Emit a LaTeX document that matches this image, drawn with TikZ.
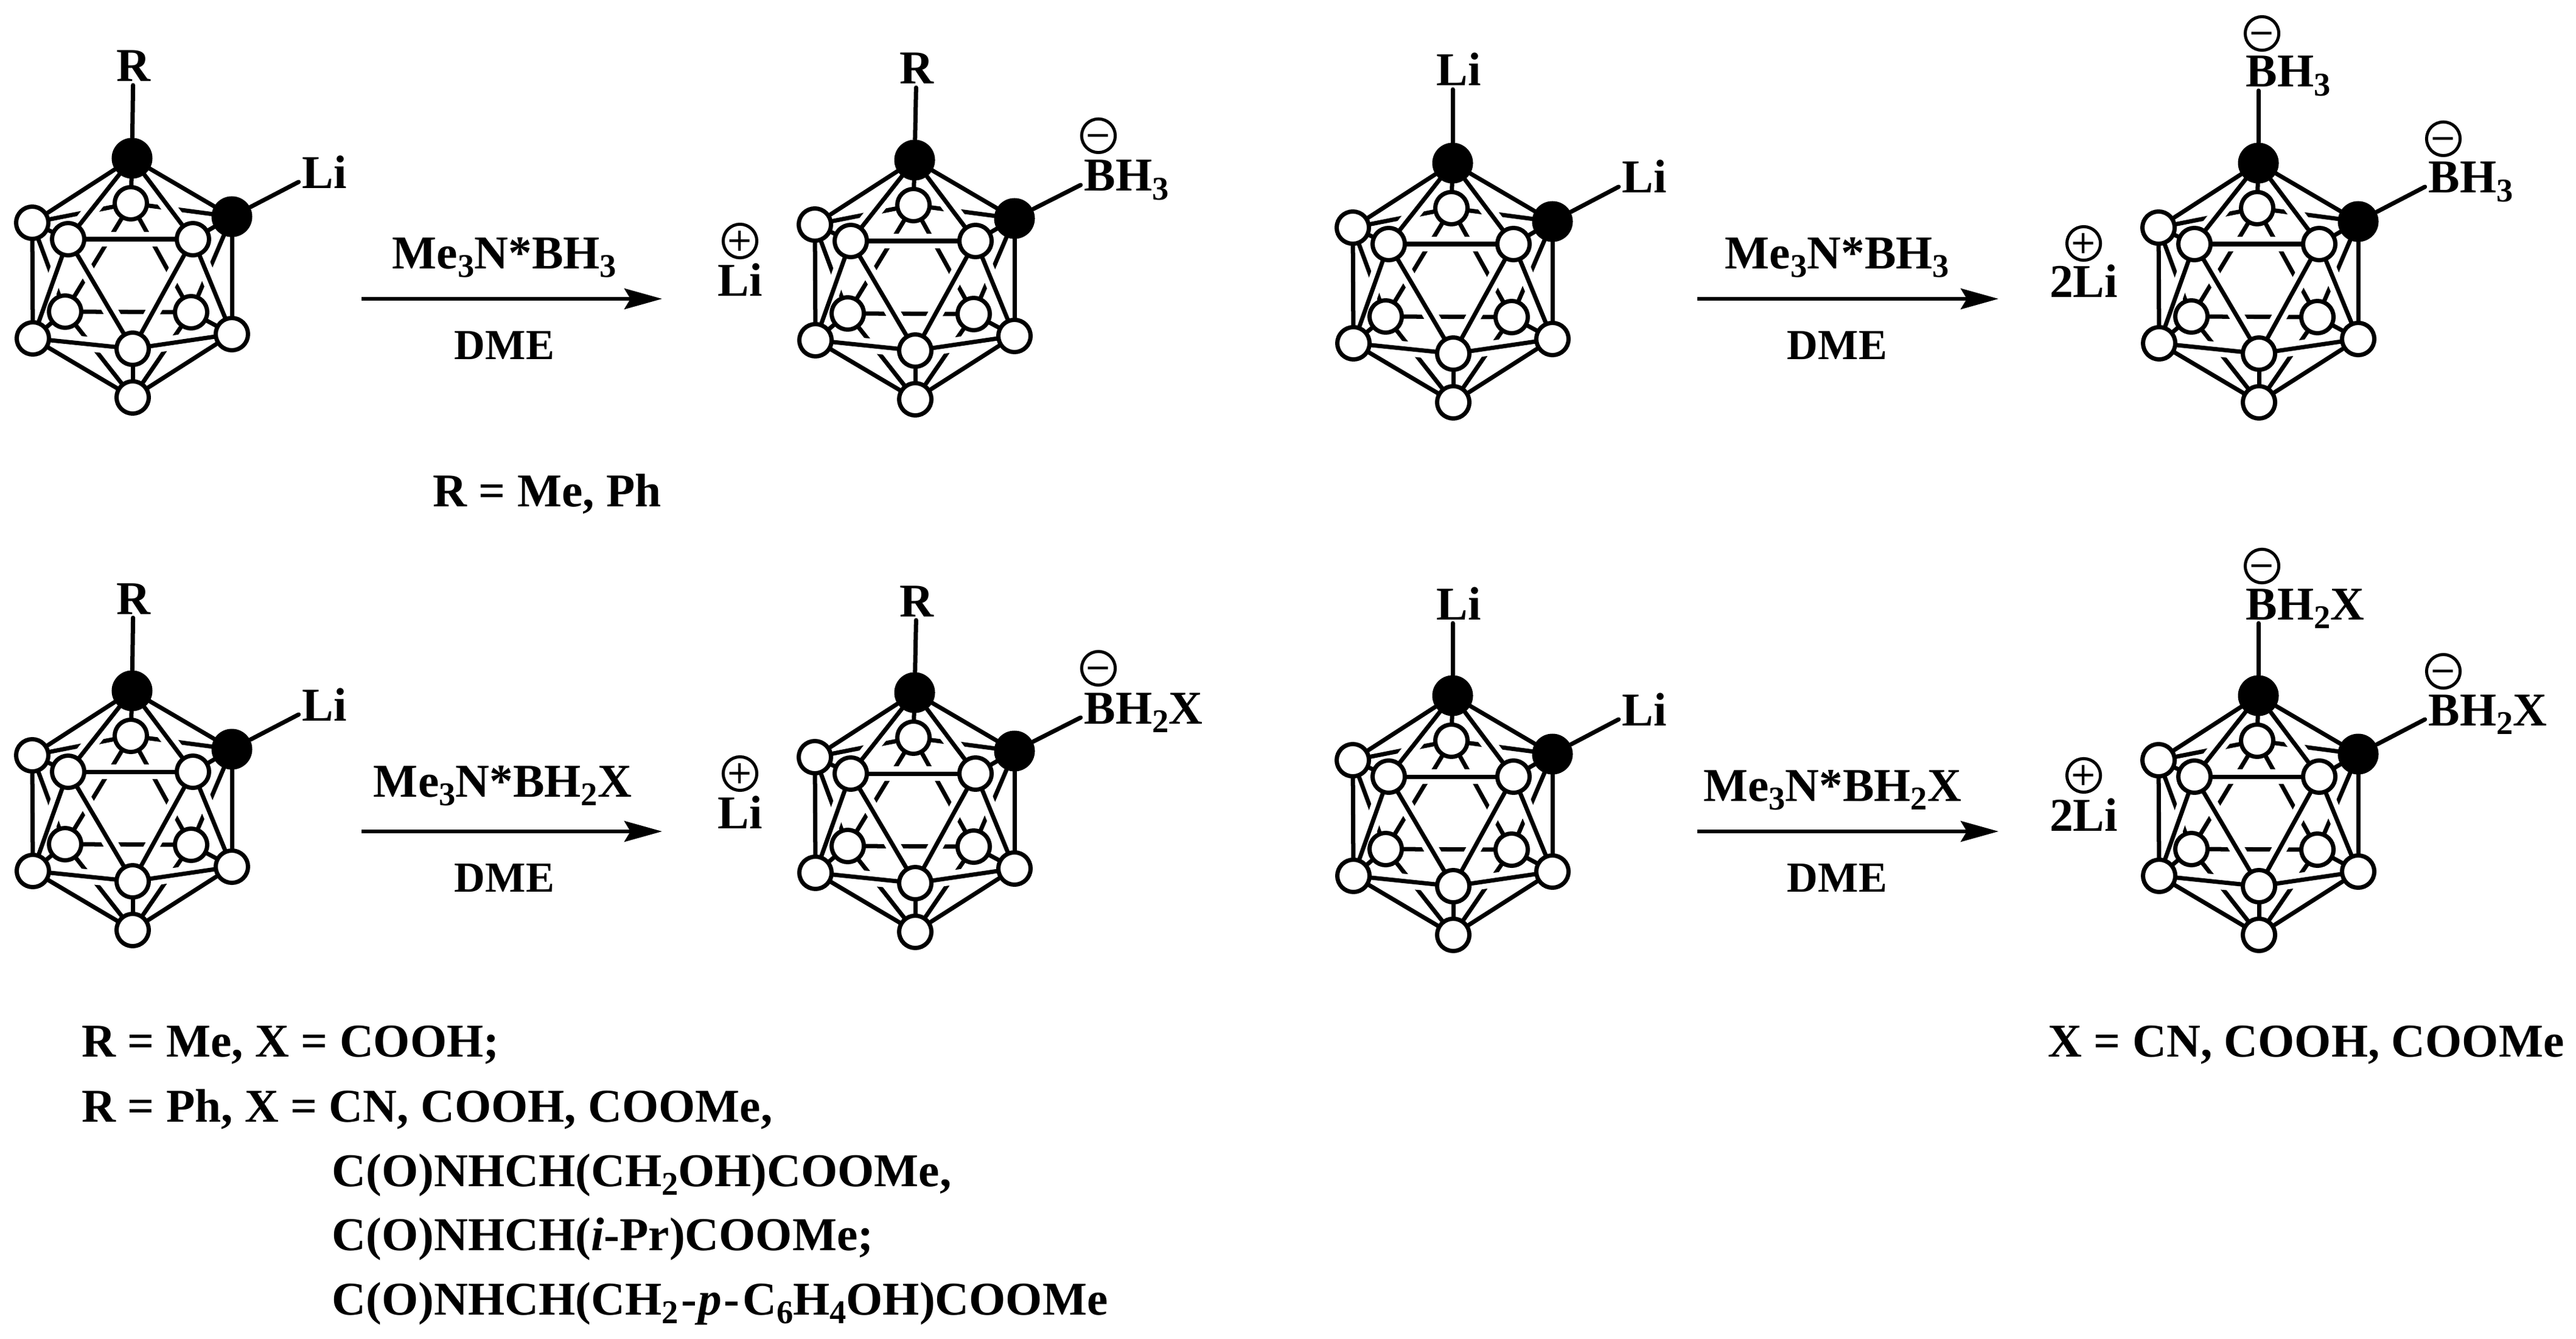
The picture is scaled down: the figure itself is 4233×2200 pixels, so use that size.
\documentclass[tikz,border=0pt]{standalone}
\usepackage{fontspec}
\setmainfont{Liberation Serif}
\newfontfamily\chargefont{DejaVu Sans}
\usetikzlibrary{arrows.meta}
\newcommand{\chemsub}[1]{\raisebox{-.42ex}{\fontsize{15.5}{15.5}\selectfont #1}}
\tikzset{
    bond/.style={line width=.07cm,line cap=round},
    halo/.style={white,line width=.24cm,shorten >=.36cm,shorten <=.36cm},
    boron/.style={circle,draw,fill=white,line width=.07cm,inner sep=0,minimum size=.53cm},
    carbon/.style={circle,fill=black,inner sep=0,minimum size=.67cm},
    lab/.style={font=\bfseries\fontsize{22}{26}\selectfont,inner sep=1.5pt,text depth=0pt,anchor=base},
    labl/.style={lab,anchor=base west,xshift=-1.5pt},
    solvent/.style={lab,font=\bfseries\fontsize{20}{24}\selectfont},
    charge/.style={circle,draw,line width=.05cm,inner sep=0,minimum size=.5cm,text height=9.4pt,text depth=0pt,font=\chargefont\fontsize{15}{15}\selectfont},
    react/.style={-{Stealth[length=.62cm,width=.34cm,inset=.1cm]},line width=.06cm}
}
\begin{document}
\begin{tikzpicture}[x=.01cm,y=-.01cm]
    \useasboundingbox (0,0) rectangle (4233,2200);
    \foreach \m/\dx/\dy in {m1/0/0,m2/1286/3,m3/2170/8,m4/3494/8,m5/0/875,m6/1286/878,m7/2170/883,m8/3494/883}{
        \begin{scope}[shift={(\dx,\dy)}]
            \foreach \a/\px/\py in {c1/217/260,c2/381/356,a/53/366,b/112/393,c/317/393,d/215/334,e/107/512,f/314/513,g/54/556,h/218/573,i/381/549,j/218/653}
                \coordinate (\m-\a) at (\px,\py);
            % hidden cage edges first
            \foreach \p/\q in {c1/d,d/a,d/c2,d/e,d/f,e/a,e/f,e/j,e/g,f/c2,f/i,f/j}
                \draw[bond,line cap=butt] (\m-\p)--(\m-\q);
            \foreach \p/\q in {c1/b,c1/c,b/c,b/g,b/h,c/h,c/i,g/h,h/i}
                \draw[halo] (\m-\p)--(\m-\q);
            \foreach \a in {d,e,f}
                \node[boron] (\m-\a) at (\m-\a) {};
            \foreach \p/\q in {c1/a,c1/b,c1/c,c1/c2,a/b,b/c,c/c2,a/g,b/g,b/h,c/h,c/i,c2/i,g/h,h/i,g/j,h/j,i/j}
                \draw[bond] (\m-\p)--(\m-\q);
            \foreach \a in {a,b,c,g,h,i,j}
                \node[boron] (\m-\a) at (\m-\a) {};
            \foreach \a in {c1,c2}
                \node[carbon] (\m-\a) at (\m-\a) {};
        \end{scope}
    }
    % first row
    \node[lab] (m1-r) at (219,134) {R};
    \node[labl] (m1-li) at (496,309) {Li};
    \draw[bond] (m1-r)--(m1-c1);
    \draw[bond] ([yshift=.16cm]m1-li.south west)--(m1-c2);
    \draw[react] (594,491)--(1088,491);
    \node[lab] (a1-top) at (829,441) {Me\chemsub{3}N*BH\chemsub{3}};
    \node[solvent] (a1-low) at (829,590) {DME};
    \node[charge] (m2-plus) at (1216,396) {+};
    \node[lab] (m2-cat) at (1216,486) {Li};
    \node[lab] (m2-r) at (1506,138) {R};
    \node[charge] (m2-minus) at (1805,223) {−};
    \node[labl] (m2-x) at (1781,314) {BH\chemsub{3}};
    \draw[bond] (m2-r)--(m2-c1);
    \draw[bond] ([yshift=.16cm]m2-x.south west)--(m2-c2);
    \node[lab] (note1) at (899,832) {R = Me, Ph};
    \node[lab] (m3-r) at (2397,141) {Li};
    \node[labl] (m3-li) at (2665,317) {Li};
    \draw[bond] (m3-c1 |- m3-r.south)--(m3-c1);
    \draw[bond] ([yshift=.16cm]m3-li.south west)--(m3-c2);
    \draw[react] (2789,491)--(3284,491);
    \node[lab] (a2-top) at (3019,441) {Me\chemsub{3}N*BH\chemsub{3}};
    \node[solvent] (a2-low) at (3019,590) {DME};
    \node[charge] (m4-plus) at (3424,400) {+};
    \node[lab] (m4-cat) at (3424,488) {2Li};
    \node[charge] (m4-minus) at (3717,55) {−};
    \node[labl] (m4-r) at (3690,143) {BH\chemsub{3}};
    \node[charge] (m4-minusb) at (4015,228) {−};
    \node[labl] (m4-x) at (3990,317) {BH\chemsub{3}};
    \draw[bond] (m4-c1 |- m4-r.south)--(m4-c1);
    \draw[bond] ([yshift=.16cm]m4-x.south west)--(m4-c2);
    % second row
    \node[lab] (m5-r) at (219,1009) {R};
    \node[labl] (m5-li) at (496,1184) {Li};
    \draw[bond] (m5-r)--(m5-c1);
    \draw[bond] ([yshift=.16cm]m5-li.south west)--(m5-c2);
    \draw[react] (594,1366)--(1088,1366);
    \node[lab] (a3-top) at (826,1309) {Me\chemsub{3}N*BH\chemsub{2}X};
    \node[solvent] (a3-low) at (829,1465) {DME};
    \node[charge] (m6-plus) at (1216,1271) {+};
    \node[lab] (m6-cat) at (1216,1361) {Li};
    \node[lab] (m6-r) at (1506,1013) {R};
    \node[charge] (m6-minus) at (1805,1098) {−};
    \node[labl] (m6-x) at (1781,1189) {BH\chemsub{2}X};
    \draw[bond] (m6-r)--(m6-c1);
    \draw[bond] ([yshift=.16cm]m6-x.south west)--(m6-c2);
    \node[lab] (m7-r) at (2397,1018) {Li};
    \node[labl] (m7-li) at (2665,1192) {Li};
    \draw[bond] (m7-c1 |- m7-r.south)--(m7-c1);
    \draw[bond] ([yshift=.16cm]m7-li.south west)--(m7-c2);
    \draw[react] (2789,1366)--(3284,1366);
    \node[lab] (a4-top) at (3011,1316) {Me\chemsub{3}N*BH\chemsub{2}X};
    \node[solvent] (a4-low) at (3019,1465) {DME};
    \node[charge] (m8-plus) at (3424,1274) {+};
    \node[lab] (m8-cat) at (3424,1365) {2Li};
    \node[charge] (m8-minus) at (3717,930) {−};
    \node[labl] (m8-r) at (3690,1018) {BH\chemsub{2}X};
    \node[charge] (m8-minusb) at (4015,1103) {−};
    \node[labl] (m8-x) at (3990,1192) {BH\chemsub{2}X};
    \draw[bond] (m8-c1 |- m8-r.south)--(m8-c1);
    \draw[bond] ([yshift=.16cm]m8-x.south west)--(m8-c2);
    % substituent lists
    \node[labl] (note2) at (134,1736) {R = Me, X = COOH;};
    \node[labl] (note3) at (134,1843) {R = Ph, X = CN, COOH, COOMe,};
    \node[labl] (note4) at (545,1949) {C(O)NHCH(CH\chemsub{2}OH)COOMe,};
    \node[labl] (note5) at (545,2054) {C(O)NHCH(\textit{i}-Pr)COOMe;};
    \node[labl] (note6) at (545,2160) {C(O)NHCH(CH\chemsub{2}\kern1.5pt-\kern.7pt\textit{p}\kern.7pt-\kern1.5pt C\chemsub{6}H\chemsub{4}OH)COOMe};
    \node[labl] (note7) at (3365,1736) {X = CN, COOH, COOMe};
\end{tikzpicture}
\end{document}
